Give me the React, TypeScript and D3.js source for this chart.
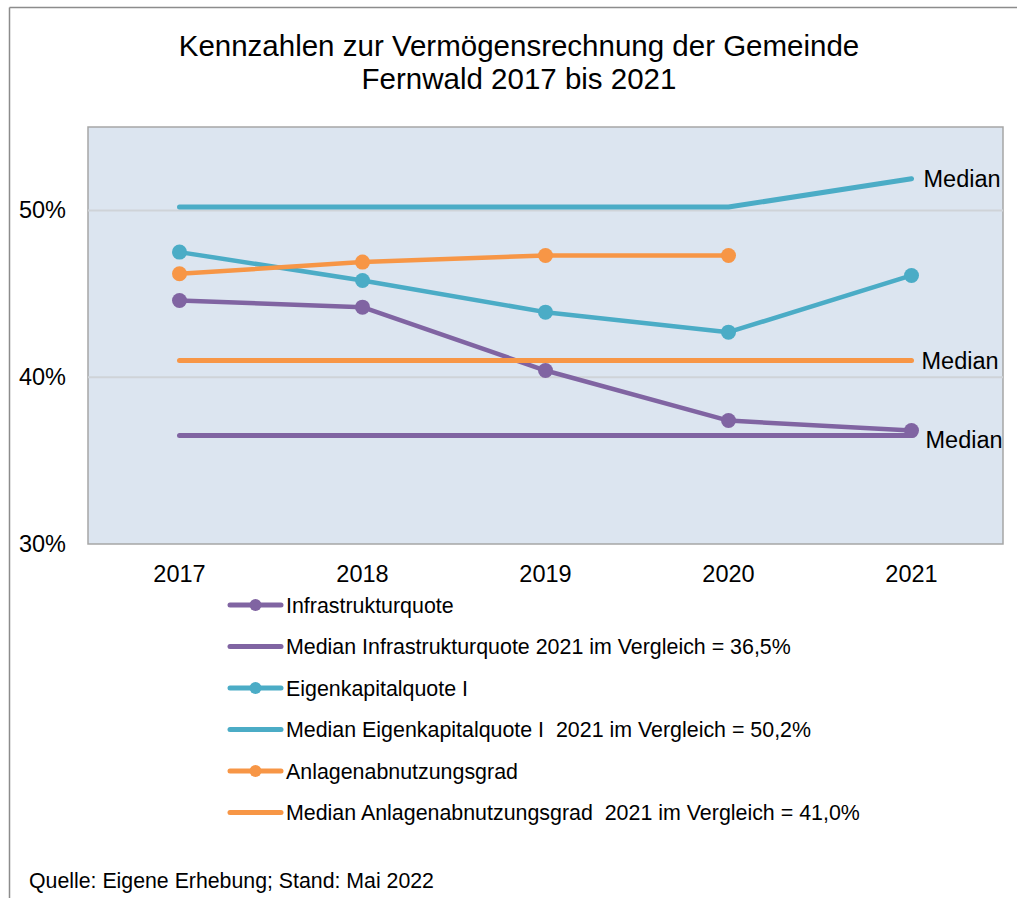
import React from 'react';
import * as d3 from 'd3';

const years = ['2017', '2018', '2019', '2020', '2021'];
const infrastrukturquote = [44.6, 44.2, 40.4, 37.4, 36.8];
const medianInfrastruktur = [36.5, 36.5, 36.5, 36.5, 36.5];
const eigenkapitalquote = [47.5, 45.8, 43.9, 42.7, 46.1];
const medianEigenkapital = [50.2, 50.2, 50.2, 50.2, 51.9];
const anlagenabnutzung: (number | null)[] = [46.2, 46.9, 47.3, 47.3, null];
const medianAnlagen = [41.0, 41.0, 41.0, 41.0, 41.0];
const yTicks = [30, 40, 50];
const titleLines = ['Kennzahlen zur Vermögensrechnung der Gemeinde', 'Fernwald 2017 bis 2021'];
const legendLabels = [
  'Infrastrukturquote',
  'Median Infrastrukturquote 2021 im Vergleich = 36,5%',
  'Eigenkapitalquote I',
  'Median Eigenkapitalquote I  2021 im Vergleich = 50,2%',
  'Anlagenabnutzungsgrad',
  'Median Anlagenabnutzungsgrad  2021 im Vergleich = 41,0%',
];
const footer = 'Quelle: Eigene Erhebung; Stand: Mai 2022';
const medianLabel = 'Median';

const PURPLE = '#8064a2';
const TEAL = '#4bacc6';
const ORANGE = '#f79646';

const series = [
  { values: infrastrukturquote as (number | null)[], color: PURPLE, markers: true, median: false },
  { values: medianInfrastruktur as (number | null)[], color: PURPLE, markers: false, median: true },
  { values: eigenkapitalquote as (number | null)[], color: TEAL, markers: true, median: false },
  { values: medianEigenkapital as (number | null)[], color: TEAL, markers: false, median: true },
  { values: anlagenabnutzung, color: ORANGE, markers: true, median: false },
  { values: medianAnlagen as (number | null)[], color: ORANGE, markers: false, median: true },
];

const FONT = '"Liberation Sans", Arial, Helvetica, sans-serif';

export default function App() {
  const W = 1017, H = 898;
  const plot = { left: 88, right: 1003, top: 127, bottom: 544 };
  const x = d3.scalePoint<string>().domain(years).range([plot.left, plot.right]).padding(0.5);
  const y = d3.scaleLinear().domain([30, 55]).range([plot.bottom, plot.top]);

  const line = d3
    .line<number | null>()
    .defined((d) => d !== null)
    .x((_, i) => x(years[i]) as number)
    .y((d) => y(d as number));

  const medianLabelOffsets = [
    { s: 3, dx: 12, dy: 8 },
    { s: 5, dx: 10, dy: 8 },
    { s: 1, dx: 14, dy: 12 },
  ];

  return (
    <svg width={W} height={H} style={{ position: 'absolute', left: 0, top: 0, background: '#fff' }} fontFamily={FONT}>
      <rect x={0} y={0} width={W} height={H} fill="#fff" />
      <line x1={9.5} y1={7.5} x2={W} y2={7.5} stroke="#8c8c8c" strokeWidth={1.5} />
      <line x1={9.5} y1={7.5} x2={9.5} y2={H} stroke="#8c8c8c" strokeWidth={1.5} />

      {titleLines.map((t, i) => (
        <text key={i} x={519} y={56 + i * 33} textAnchor="middle" fontSize={29.5} fill="#000">
          {t}
        </text>
      ))}

      <rect
        x={plot.left}
        y={plot.top}
        width={plot.right - plot.left}
        height={plot.bottom - plot.top}
        fill="#dce5f0"
        stroke="#a6a6a6"
        strokeWidth={1.5}
      />
      {yTicks
        .filter((t) => t !== 30)
        .map((t) => (
          <line key={t} x1={plot.left} x2={plot.right} y1={y(t)} y2={y(t)} stroke="#cfd3d8" strokeWidth={2} />
        ))}
      {yTicks.map((t) => (
        <text key={t} x={66} y={y(t) + 8} textAnchor="end" fontSize={23.5} fill="#000">
          {t}%
        </text>
      ))}
      {years.map((yr) => (
        <text key={yr} x={x(yr)} y={582} textAnchor="middle" fontSize={23.5} fill="#000">
          {yr}
        </text>
      ))}

      {series.map((s, i) => (
        <g key={i}>
          <path
            d={line(s.values) || ''}
            fill="none"
            stroke={s.color}
            strokeWidth={s.median ? 5 : 4.5}
            strokeLinecap="round"
            strokeLinejoin="round"
          />
          {s.markers &&
            s.values.map((v, j) =>
              v === null ? null : <circle key={j} cx={x(years[j])} cy={y(v)} r={7.5} fill={s.color} />
            )}
        </g>
      ))}

      {medianLabelOffsets.map((m, i) => {
        const s = series[m.s];
        const v = s.values[years.length - 1] as number;
        return (
          <text key={i} x={(x(years[years.length - 1]) as number) + m.dx} y={y(v) + m.dy} fontSize={23.5} fill="#000">
            {medianLabel}
          </text>
        );
      })}

      {legendLabels.map((lab, i) => {
        const cy = 605 + i * 41.5;
        const s = series[i];
        return (
          <g key={i}>
            <line x1={230} x2={281} y1={cy} y2={cy} stroke={s.color} strokeWidth={5} strokeLinecap="round" />
            {s.markers && <circle cx={255.5} cy={cy} r={6} fill={s.color} />}
            <text x={286} y={cy + 7.5} fontSize={21.4} fill="#000" style={{ whiteSpace: 'pre' }}>
              {lab}
            </text>
          </g>
        );
      })}

      <text x={29} y={888} fontSize={21.3} fill="#000">
        {footer}
      </text>
    </svg>
  );
}
